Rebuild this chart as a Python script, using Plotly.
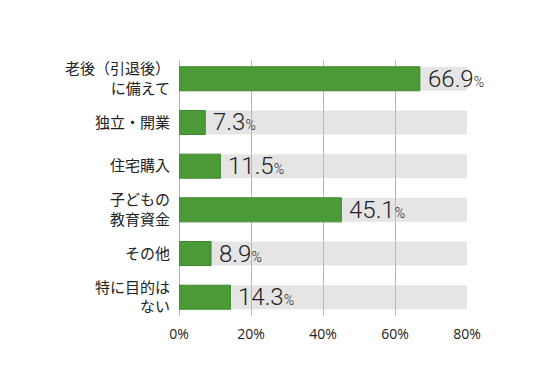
import plotly.graph_objects as go

categories = ["老後（引退後）<br>に備えて", "独立・開業", "住宅購入", "子どもの<br>教育資金", "その他", "特に目的は<br>ない"]
values = [66.9, 7.3, 11.5, 45.1, 8.9, 14.3]
band_max = 80
tick_vals = [0, 20, 40, 60, 80]
tick_text = ["0%", "20%", "40%", "60%", "80%"]

GREEN = "#4c9a37"
BAND = "#e5e5e5"
BAR_W = 0.55

fig = go.Figure()
fig.add_trace(go.Bar(
    y=list(range(len(categories))), x=values, orientation="h",
    width=BAR_W, marker=dict(color=GREEN, line=dict(color="#3f8a2e", width=1)),
    hoverinfo="skip", showlegend=False,
))

shapes = []
for i, _ in enumerate(categories):
    shapes.append(dict(type="rect", xref="x", yref="y", x0=0, x1=band_max,
                       y0=i - BAR_W / 2, y1=i + BAR_W / 2,
                       fillcolor=BAND, line=dict(width=0), layer="below"))

annotations = []
for i, v in enumerate(values):
    annotations.append(dict(
        x=v, y=i, xref="x", yref="y", xanchor="left", yanchor="middle",
        xshift=6, showarrow=False,
        text=f"{v:.1f}<span style='font-size:14px'>%</span>",
        font=dict(size=24, color="#222222", family="Roboto, Noto Sans, sans-serif", weight=300),
    ))

fig.update_layout(
    width=550, height=384,
    margin=dict(l=171, r=91, t=52, b=76),
    paper_bgcolor="white", plot_bgcolor="white",
    shapes=shapes, annotations=annotations,
    font=dict(family="Noto Sans CJK JP, sans-serif", color="#222222"),
    xaxis=dict(range=[0, band_max], tickvals=tick_vals, ticktext=tick_text,
               showgrid=True, gridcolor="#b8b8b8", gridwidth=1,
               zeroline=True, zerolinecolor="#b8b8b8", zerolinewidth=1,
               showline=False, ticks="outside", ticklen=5, tickcolor="rgba(0,0,0,0)",
               fixedrange=True,
               tickfont=dict(size=14, color="#222222", family="Open Sans, Noto Sans, sans-serif")),
    yaxis=dict(range=[5.43, -0.43], tickvals=list(range(len(categories))), ticktext=categories,
               showgrid=False, zeroline=False, showline=False,
               ticks="outside", ticklen=5, tickcolor="rgba(0,0,0,0)",
               tickfont=dict(size=15, color="#222222")),
    bargap=0.45,
)

fig.write_html("out.html")
